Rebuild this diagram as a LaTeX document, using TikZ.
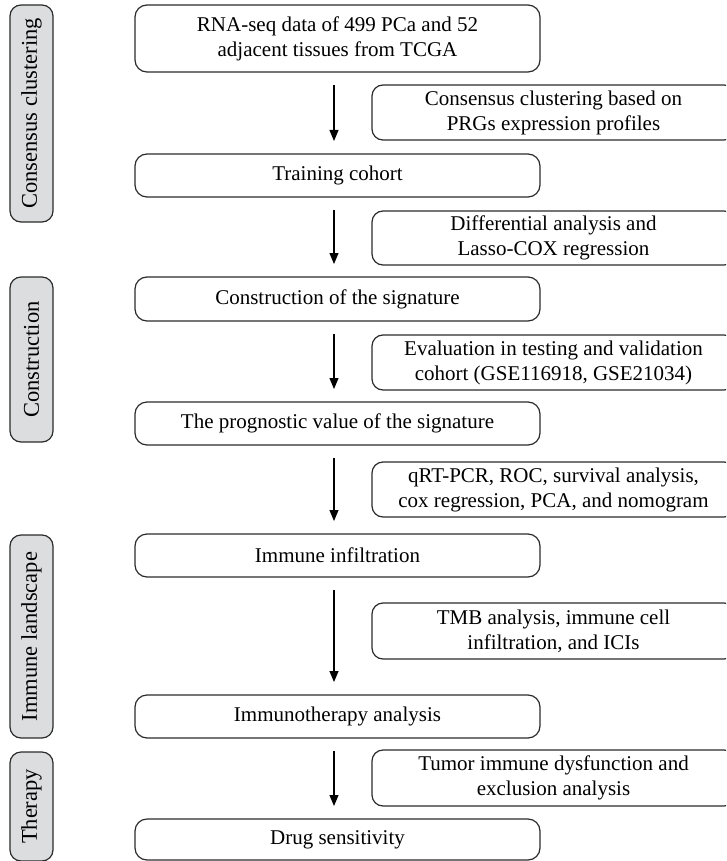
\documentclass[tikz,border=0pt]{standalone}
\usepackage{fontspec}
\setmainfont{Liberation Serif}
\usetikzlibrary{arrows.meta}
\definecolor{edge}{HTML}{2B2B2B}
\definecolor{lab}{HTML}{DCDDDE}
\begin{document}
\begin{tikzpicture}[x=1pt,y=-1pt,
  txt/.style={font=\fontsize{21}{25}\selectfont, align=center, text=black},
  mainbox/.style={txt, draw=edge, line width=1.2pt, rounded corners=12pt, minimum width=405pt, inner sep=0pt},
  sidebox/.style={txt, draw=edge, line width=1.2pt, rounded corners=11pt, minimum width=363pt, inner sep=0pt},
  labbox/.style={font=\fontsize{22.5}{25}\selectfont, text=black, draw=edge, fill=lab, line width=1.2pt, rounded corners=11pt, rotate=90, minimum height=43pt, inner sep=0pt},
  flow/.style={draw=black, line width=1.1pt, -{Triangle[length=11pt,width=9pt]}, shorten <=13pt, shorten >=13pt}]
\useasboundingbox (0,0) rectangle (726,861);
\clip (0,0) rectangle (726,861);
% phase labels
\node[labbox, minimum width=217pt] (L1) at (31.5,113.5) {Consensus clustering};
\node[labbox, minimum width=165pt] (L2) at (31.5,359.5) {Construction};
\node[labbox, minimum width=203pt] (L3) at (31.5,636.5) {Immune landscape};
\node[labbox, minimum width=109pt] (L4) at (31.5,806.5) {Therapy};
% main column
\node[mainbox, minimum height=67pt] (m1) at (337.5,38.5) {RNA-seq data of 499 PCa and 52\\adjacent tissues from TCGA};
\node[mainbox, minimum height=43pt] (m2) at (337.5,175.5) {Training cohort};
\node[mainbox, minimum height=44pt] (m3) at (337.5,299) {Construction of the signature};
\node[mainbox, minimum height=43pt] (m4) at (337.5,423.5) {The prognostic value of the signature};
\node[mainbox, minimum height=43pt] (m5) at (337.5,555.5) {Immune infiltration};
\node[mainbox, minimum height=43pt] (m6) at (337.5,716.5) {Immunotherapy analysis};
\node[mainbox, minimum height=41pt] (m7) at (337.5,839.5) {Drug sensitivity};
% side column
\node[sidebox, minimum height=55pt] (s1) at (553.5,112.5) {Consensus clustering based on\\PRGs expression profiles};
\node[sidebox, minimum height=54pt] (s2) at (553.5,238) {Differential analysis and\\Lasso-COX regression};
\node[sidebox, minimum height=55pt] (s3) at (553.5,362.5) {Evaluation in testing and validation\\cohort (GSE116918, GSE21034)};
\node[sidebox, minimum height=55pt] (s4) at (553.5,489.5) {qRT-PCR, ROC, survival analysis,\\cox regression, PCA, and nomogram};
\node[sidebox, minimum height=56pt] (s5) at (553.5,631) {TMB analysis, immune cell\\infiltration, and ICIs};
\node[sidebox, minimum height=56pt] (s6) at (553.5,778) {Tumor immune dysfunction and\\exclusion analysis};
% arrows
\coordinate (a1) at (334,72);  \coordinate (b1) at (334,154);
\coordinate (a2) at (334,197); \coordinate (b2) at (334,277);
\coordinate (a3) at (334,321); \coordinate (b3) at (334,402);
\coordinate (a4) at (334,445); \coordinate (b4) at (334,534);
\coordinate (a5) at (334,577); \coordinate (b5) at (334,695);
\coordinate (a6) at (334,738); \coordinate (b6) at (334,819);
\foreach \i in {1,...,6} {\draw[flow] (a\i) -- (b\i);}
\end{tikzpicture}
\end{document}
